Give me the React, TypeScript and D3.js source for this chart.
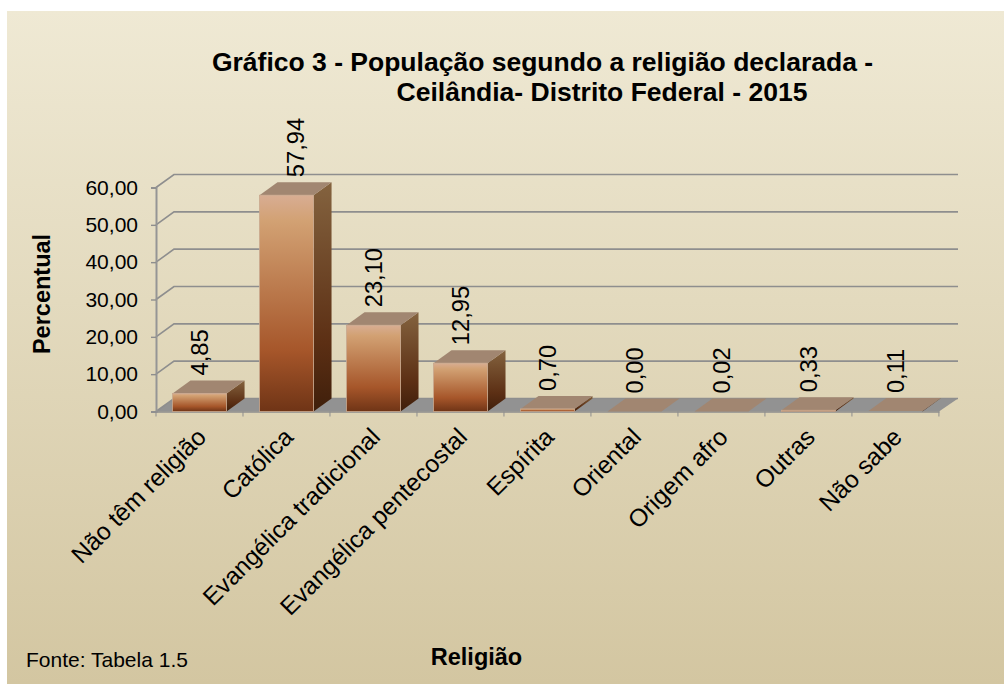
import React, { useEffect, useRef } from 'react';
import * as d3 from 'd3';

const categories = ['Não têm religião', 'Católica', 'Evangélica tradicional', 'Evangélica pentecostal', 'Espírita', 'Oriental', 'Origem afro', 'Outras', 'Não sabe'];
const values = [4.85, 57.94, 23.10, 12.95, 0.70, 0.00, 0.02, 0.33, 0.11];
const yTicks = [0, 10, 20, 30, 40, 50, 60];
const titleLines = ['Gráfico 3 - População segundo a religião declarada -', 'Ceilândia- Distrito Federal - 2015'];

const width = 1004;
const height = 684;
const depthX = 18;
const depthY = 13;
const font = '"Liberation Sans", Arial, sans-serif';

const x = d3.scaleBand<string>().domain(categories).range([156, 939]).paddingInner(0.379).paddingOuter(0.19);
const y = d3.scaleLinear().domain([0, 60]).range([411.5, 187.5]);
const comma = (d: number) => d3.format('.2f')(d).replace('.', ',');

export default function App() {
  const xRef = useRef<SVGGElement>(null);
  const yRef = useRef<SVGGElement>(null);

  useEffect(() => {
    const yAxis = d3.axisLeft(y).tickValues(yTicks).tickFormat((d) => comma(+d)).tickSize(5).tickPadding(13);
    const xAxis = d3.axisBottom(x).tickSize(0).tickFormat(() => '');
    const ya = d3.select(yRef.current!).call(yAxis as any);
    ya.selectAll('text').attr('font-size', 21).attr('font-family', font).attr('fill', '#000');
    ya.selectAll('line').attr('stroke', '#8e8e8e').attr('stroke-width', 1.4);
    ya.selectAll('path').attr('stroke', '#959595').attr('stroke-width', 2);
    const xa = d3.select(xRef.current!).call(xAxis as any);
    xa.selectAll('path').attr('stroke', '#8e8e8e').attr('stroke-width', 1.6);
    xa.selectAll('.tick').remove();
  }, []);

  const step = x.step();
  const x0 = x.range()[0];
  const xBoundaries = d3.range(categories.length + 1).map((i) => x0 + i * step);
  const right = x.range()[1] + depthX + 1;

  return (
    <svg width={width} height={height} style={{ position: 'absolute', left: 0, top: 0 }}>
      <defs>
        <linearGradient id="bg" x1="0" y1="0" x2="0" y2="1">
          <stop offset="0" stopColor="#efe9d4" />
          <stop offset="1" stopColor="#d3c6a1" />
        </linearGradient>
        <linearGradient id="front" x1="0" y1="0" x2="0" y2="1">
          <stop offset="0" stopColor="#d8ad93" />
          <stop offset="0.12" stopColor="#d2a173" />
          <stop offset="0.72" stopColor="#a6562a" />
          <stop offset="1" stopColor="#6f3416" />
        </linearGradient>
        <linearGradient id="side" x1="0" y1="0" x2="0" y2="1">
          <stop offset="0" stopColor="#84633f" />
          <stop offset="0.7" stopColor="#5c2f14" />
          <stop offset="1" stopColor="#3f1f0b" />
        </linearGradient>
      </defs>
      <rect x={7} y={11} width={width - 7} height={height - 11} fill="url(#bg)" />

      <polygon
        points={`${x0},${y(0)} ${x0 + depthX},${y(0) - depthY} ${right},${y(0) - depthY} ${x.range()[1]},${y(0)}`}
        fill="#929292"
      />
      {yTicks.map((t) => (
        <polyline
          key={t}
          points={`${x0},${y(t)} ${x0 + depthX},${y(t) - depthY} ${right},${y(t) - depthY}`}
          fill="none"
          stroke="#8e8e8e"
          strokeWidth={1.6}
        />
      ))}

      <g ref={yRef} transform={`translate(${x0},0)`} />
      <g ref={xRef} transform={`translate(0,${y(0)})`} />
      {xBoundaries.map((bx) => (
        <line key={bx} x1={bx} x2={bx} y1={y(0)} y2={y(0) + 5} stroke="#8e8e8e" strokeWidth={1} />
      ))}

      {categories.map((c, i) => {
        const bx = x(c)!;
        const bw = x.bandwidth();
        const top = y(values[i]);
        const base = y(0);
        const labelX = bx + bw / 2 + (c === 'Católica' ? 9 : 0);
        return (
          <g key={c}>
            <polygon
              points={`${bx + bw},${top} ${bx + bw + depthX},${top - depthY} ${bx + bw + depthX},${base - depthY} ${bx + bw},${base}`}
              fill="url(#side)"
            />
            <polygon
              points={`${bx},${top} ${bx + depthX},${top - depthY} ${bx + bw + depthX},${top - depthY} ${bx + bw},${top}`}
              fill="#a18671"
            />
            {base - top > 0.5 && (
              <rect x={bx} y={top} width={bw} height={base - top} fill="url(#front)" stroke="#c9a88e" strokeWidth={0.8} />
            )}
            <text
              transform={`translate(${labelX + 8.5},${top - depthY - 5}) rotate(-90)`}
              fontFamily={font}
              fontSize={23.7}
              fill="#000"
            >
              {comma(values[i])}
            </text>
            <text
              transform={`translate(${bx + bw / 2 + 8},${base + 27}) rotate(-45)`}
              textAnchor="end"
              fontFamily={font}
              fontSize={24.5}
              fill="#000"
            >
              {c}
            </text>
          </g>
        );
      })}

      <text x={542.5} y={70.5} textAnchor="middle" fontFamily={font} fontSize={26.5} fontWeight="bold">{titleLines[0]}</text>
      <text x={602} y={100.5} textAnchor="middle" fontFamily={font} fontSize={26.5} fontWeight="bold">{titleLines[1]}</text>
      <text transform="translate(50,294) rotate(-90)" textAnchor="middle" fontFamily={font} fontSize={23.5} fontWeight="bold">Percentual</text>
      <text x={476.5} y={665} textAnchor="middle" fontFamily={font} fontSize={23.5} fontWeight="bold">Religião</text>
      <text x={26} y={666.5} fontFamily={font} fontSize={21}>Fonte: Tabela 1.5</text>
    </svg>
  );
}
